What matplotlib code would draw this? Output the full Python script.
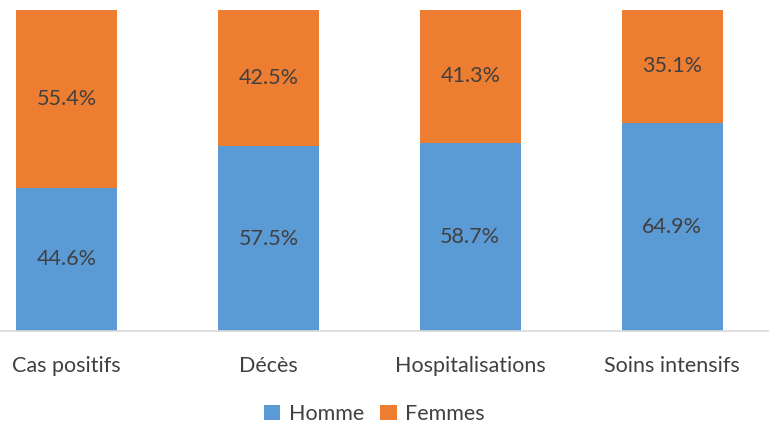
import matplotlib
matplotlib.use('Agg')
import matplotlib.pyplot as plt
import numpy as np

categories = ['Cas positifs', 'Décès', 'Hospitalisations', 'Soins intensifs']
homme = [44.6, 57.5, 58.7, 64.9]
femmes = [55.4, 42.5, 41.3, 35.1]

blue = '#5B9BD5'
orange = '#ED7D31'
txt = '#404040'

plt.rcParams['font.family'] = ['Lato', 'DejaVu Sans']
fs = 15.5

fig = plt.figure(figsize=(7.69, 4.25), dpi=100)
ax = fig.add_axes([0, 94 / 425, 1, 321 / 425])

x = np.arange(len(categories))
b1 = ax.bar(x, homme, width=0.5, color=blue, label='Homme')
b2 = ax.bar(x, femmes, width=0.5, bottom=homme, color=orange, label='Femmes')

for xi, h, f in zip(x, homme, femmes):
    ax.text(xi, h / 2, f'{h:.1f}%', ha='center', va='center', fontsize=fs, color=txt)
    ax.text(xi, h + f / 2, f'{f:.1f}%', ha='center', va='center', fontsize=fs, color=txt)

ax.set_xlim(-0.33, 3.48)
ax.set_ylim(0, 100)
ax.set_yticks([])
ax.set_xticks(x)
ax.set_xticklabels(categories, fontsize=fs, color=txt)
ax.tick_params(axis='x', length=0, pad=18)
for s in ['top', 'right', 'left']:
    ax.spines[s].set_visible(False)
ax.spines['bottom'].set_color('#D9D9D9')
ax.spines['bottom'].set_linewidth(1.2)

fig.legend(handles=[b1, b2], loc='center', bbox_to_anchor=(0.487, 1 - 414 / 425), ncol=2,
           frameon=False, fontsize=fs, handlelength=0.75, handleheight=0.75,
           handletextpad=0.4, columnspacing=0.75, labelcolor=txt)

fig.savefig('out.png', dpi=100)
